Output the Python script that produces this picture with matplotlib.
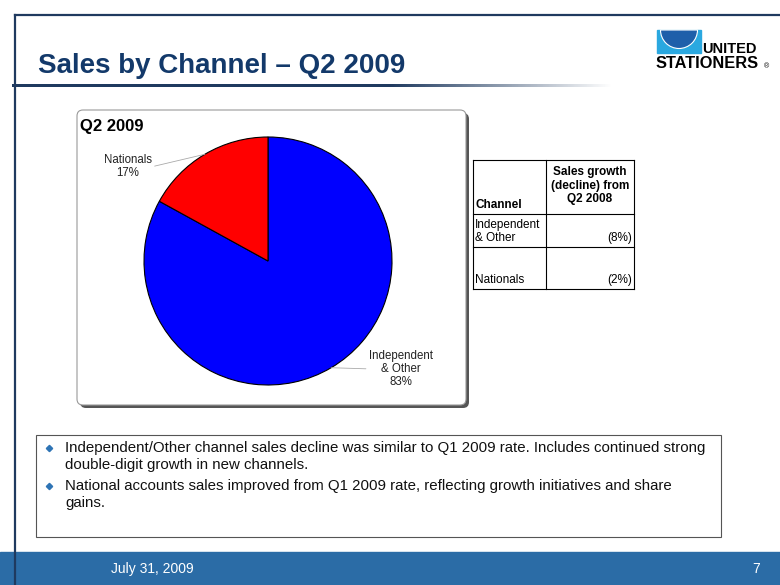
import matplotlib
matplotlib.use("Agg")
import matplotlib.pyplot as plt
import numpy as np
from matplotlib.patches import Rectangle, FancyBboxPatch, Wedge

plt.rcParams["font.family"] = ["Liberation Sans", "DejaVu Sans"]

# chart data
channels = ["Independent\n& Other", "Nationals"]
share = [83, 17]
pie_colors = ["#0000FF", "#FF0000"]
growth = ["(8%)", "(2%)"]
table_header = ["Channel", "Sales growth\n(decline) from\nQ2 2008"]
bullets = [
    ["Independent/Other channel sales decline was similar to Q1 2009 rate. Includes continued strong",
     "double-digit growth in new channels."],
    ["National accounts sales improved from Q1 2009 rate, reflecting growth initiatives and share",
     "gains."],
]

NAVY = "#13396A"
W, H = 780, 585

fig = plt.figure(figsize=(7.8, 5.85), dpi=100)
bg = fig.add_axes([0, 0, 1, 1])
bg.axis("off")

# slide frame
bg.plot([15, W], [15, 15], color="#1F3A5F", lw=1.6)
bg.plot([15, 15], [15, H], color="#1F3A5F", lw=1.6, zorder=5)

# footer band
bg.add_patch(Rectangle((0, 552), W, 33, color="#2B6CA6", zorder=3))
bg.text(111, 569, "July 31, 2009", color="white", fontsize=10, va="center", zorder=6)
bg.text(760, 569, "7", color="white", fontsize=10, va="center", ha="right", zorder=6)

# title and fading underline
bg.text(38, 66, "Sales by Channel \u2013 Q2 2009", color=NAVY, fontsize=20,
        fontweight="bold", va="center")
grad = np.ones((1, 600, 4))
grad[..., :3] = matplotlib.colors.to_rgb("#1F3A5F")
xs = np.linspace(12, 612, 600)
grad[0, :, 3] = np.clip((612 - xs) / 220, 0, 1)
bg.imshow(grad, extent=(12, 612, 87.5, 84.5), aspect="auto", interpolation="bilinear")
bg.set_xlim(0, W)
bg.set_ylim(H, 0)

# logo
bg.add_patch(Rectangle((657, 30), 44, 23, color="#2AA8E0"))
bg.add_patch(Wedge((679, 30), 18.5, 0, 180, color="#1F5FAA", ec="white", lw=0.8))
bg.text(702, 49, "UNITED", fontsize=10.5, fontweight="bold", va="center")
bg.text(656, 63, "STATIONERS", fontsize=11.8, fontweight="bold", va="center")
bg.text(764, 67, "\u00ae", fontsize=5, va="center")

# pie panel
bg.add_patch(FancyBboxPatch((80, 113), 389, 295, boxstyle="round,pad=0,rounding_size=6",
                            fc="#555555", ec="none"))
bg.add_patch(FancyBboxPatch((77, 110), 389, 295, boxstyle="round,pad=0,rounding_size=6",
                            fc="white", ec="#999999", lw=0.8))
bg.text(80, 127, "Q2 2009", fontsize=12, fontweight="bold", va="center")

cx, cy, r = 268, 261, 124
pax = fig.add_axes([(cx - r) / W, (H - cy - r) / H, 2 * r / W, 2 * r / H])
wedges, _ = pax.pie(share, colors=pie_colors, startangle=90, counterclock=False,
                    wedgeprops=dict(edgecolor="black", linewidth=0.8))
pax.set_xlim(-1, 1)
pax.set_ylim(-1, 1)
pax.set_aspect("auto")

label_pos = [(1.07, -0.87), (-1.13, 0.76)]
rel = [(0, 0.5), (1, 0.5)]
for w, lab, s, pos, rp in zip(wedges, channels, share, label_pos, rel):
    ang = np.deg2rad((w.theta1 + w.theta2) / 2)
    pax.annotate(f"{lab}\n{s}%", xy=(np.cos(ang), np.sin(ang)), xytext=pos,
                 ha="center", va="center", fontsize=8.3, color="#222222",
                 linespacing=1.15, annotation_clip=False,
                 arrowprops=dict(arrowstyle="-", color="#AAAAAA", lw=0.6,
                                 shrinkA=0, shrinkB=0, relpos=rp))

# growth table
tx0, tx1, tsplit = 473, 634, 546
rows_y = [160, 214, 247, 289]
for y in rows_y:
    bg.plot([tx0, tx1], [y, y], color="black", lw=0.8)
for x in (tx0, tsplit, tx1):
    bg.plot([x, x], [rows_y[0], rows_y[-1]], color="black", lw=0.8)
bg.text(tx0 + 2, rows_y[1] - 3, table_header[0], fontsize=8.5, fontweight="bold",
        va="bottom", ha="left")
bg.text((tsplit + tx1) / 2, rows_y[1] - 9, table_header[1], fontsize=8.5,
        fontweight="bold", va="bottom", ha="center", linespacing=1.15)
for i, (ch, g) in enumerate(zip(channels, growth)):
    ybot = rows_y[i + 2] - 3
    bg.text(tx0 + 2, ybot, ch, fontsize=8.5, va="bottom", ha="left", linespacing=1.15)
    bg.text(tx1 - 2, ybot, g, fontsize=8.5, va="bottom", ha="right")

# commentary box
bg.add_patch(Rectangle((36, 435), 685, 102, fc="white", ec="#555555", lw=0.8))
y = 448
for lines in bullets:
    bg.plot(49, y, marker="D", color="#2E74B5", markersize=3.2)
    for ln in lines:
        bg.text(65, y, ln, fontsize=10.8, va="center", color="#111111")
        y += 17
    y += 4

fig.savefig("out.png", dpi=100)
